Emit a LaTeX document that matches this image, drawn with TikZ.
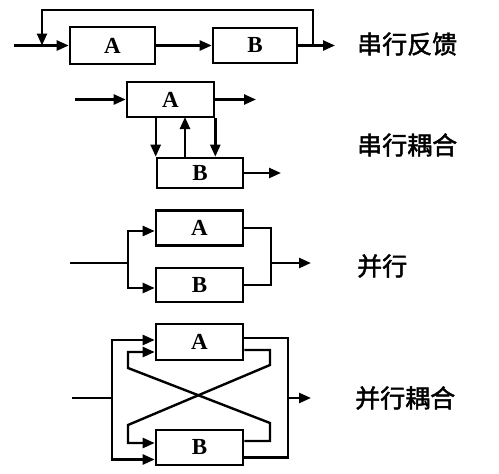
\documentclass[tikz,border=0pt]{standalone}
\usepackage{fontspec}
\newfontfamily\cjk{Noto Sans CJK SC}[FakeBold=1.8]
\setmainfont{Liberation Serif}
\usetikzlibrary{arrows.meta,calc}
\begin{document}
\begin{tikzpicture}[x=1pt,y=-1pt,
  blk/.style={draw,line width=2.6pt,inner sep=0pt,font=\bfseries\fontsize{23}{23}\selectfont},
  ln/.style={line width=2.4pt},
  arr/.style={ln,-{Triangle[length=12pt,width=10pt]}},
  lbl/.style={anchor=west,inner sep=0pt,font=\cjk\fontsize{25}{25}\selectfont}]
\useasboundingbox (0,0) rectangle (499,474);
% ---- row 1: serial feedback
\node[blk,minimum width=85pt,minimum height=37pt] (A1) at (112.5,45.5) {A};
\node[blk,minimum width=84pt,minimum height=35pt] (B1) at (255,45.5) {B};
\coordinate (in1) at (14,45.5);
\coordinate (j1) at (42,45.5);
\coordinate (fb1) at (313,45.5);
\coordinate (fbt) at (313,10);
\coordinate (out1) at (335,45.5);
\draw[ln] (in1) -- (j1);
\draw[arr] (j1) -- (A1.west);
\draw[arr] (A1.east) -- (B1.west);
\draw[arr] (B1.east) -- (out1);
\draw[arr] (fb1) -- (fbt) -| (j1);
\node[lbl] (L1) at (357,44) {串行反馈};
% ---- row 2: serial coupling
\node[blk,minimum width=87pt,minimum height=35pt] (A2) at (170.5,99.5) {A};
\node[blk,minimum width=86pt,minimum height=30pt] (B2) at (200,173) {B};
\coordinate (in2) at (75,99.5);
\coordinate (oa2) at (256,99.5);
\coordinate (ob2) at (281,173);
\coordinate (m2a) at (185,117);
\coordinate (m2b) at (185,158);
\draw[arr] (in2) -- (A2.west);
\draw[arr] (A2.east) -- (oa2);
\draw[arr] (B2.east) -- (ob2);
\draw[arr] (B2.north west |- A2.south) -- (B2.north west);
\draw[arr] (m2b) -- (m2a);
\draw[arr] (A2.south east) -- (A2.south east |- B2.north);
\node[lbl] (L2) at (357,145) {串行耦合};
% ---- row 3: parallel
\node[blk,minimum width=87pt,minimum height=35pt] (A3) at (199.5,228) {A};
\node[blk,minimum width=87pt,minimum height=34pt] (B3) at (199.5,285) {B};
\coordinate (in3) at (70,263);
\coordinate (s3) at (128,263);
\coordinate (r3) at (271,263);
\coordinate (out3) at (311,263);
\draw[ln] (in3) -- (s3);
\draw[arr] (s3) |- ([yshift=-3pt]A3.west);
\draw[arr] (s3) |- ([yshift=-3pt]B3.west);
\draw[ln] (A3.east) -| (r3) |- (B3.east);
\draw[arr] (r3) -- (out3);
\node[lbl] (L3) at (357,266) {并行};
% ---- row 4: parallel coupling
\node[blk,minimum width=87pt,minimum height=36pt] (A4) at (199.5,342) {A};
\node[blk,minimum width=87pt,minimum height=35pt] (B4) at (199.5,447.5) {B};
\coordinate (in4) at (72,398);
\coordinate (s4) at (112,398);
\coordinate (r4) at (288,398);
\coordinate (out4) at (311,398);
\draw[ln] (in4) -- (s4);
\draw[arr] (s4) |- ([yshift=2pt]A4.west);
\draw[arr] (s4) |- ([yshift=-12pt]B4.west);
\draw[ln] ([yshift=4pt]A4.east) -| (r4) |- ([yshift=-10pt]B4.east);
\draw[arr] (r4) -- (out4);
% cross
\coordinate (c1) at (270,365);
\coordinate (c2) at (128,425);
\coordinate (c3) at (270,423);
\coordinate (c4) at (128,368);
\draw[arr] ([yshift=-8pt]A4.east) -| (c1) -- (c2) |- ([yshift=4.5pt]B4.west);
\draw[arr] ([yshift=6.5pt]B4.east) -| (c3) -- (c4) |- ([yshift=-10pt]A4.west);
\node[lbl] (L4) at (355,398) {并行耦合};
\end{tikzpicture}
\end{document}
